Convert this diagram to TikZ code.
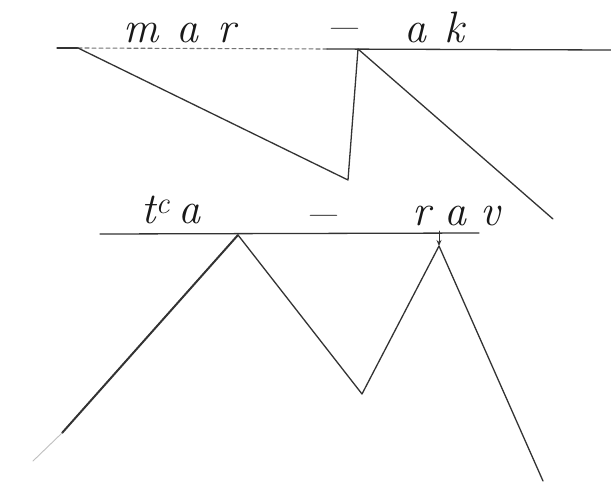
\documentclass[tikz,border=0pt]{standalone}
\usepackage{fontspec}
\usetikzlibrary{arrows.meta}
\newcommand{\lgap}{\kern0.42em}
\tikzset{
    sketch/.style = {x=1pt, y=-1pt, >={Stealth[length=6pt, width=5pt]}},
    stroke/.style = {draw=black!80, line width=1.3pt, line cap=round,
                     line join=round},
    heavy/.style  = {stroke, line width=2pt},
    faint/.style  = {draw=black!55, line width=1.1pt, line cap=round,
                     dash pattern=on 4pt off 3pt},
    fade/.style   = {draw=black!25, line width=0.9pt, line cap=round},
    word/.style   = {font=\fontsize{44}{46}\selectfont\itshape,
                     text=black!90, inner sep=0pt, anchor=base west},
    hyph/.style   = {word, anchor=center}
}

\begin{document}
\begin{tikzpicture}[sketch]
\fill[white] (0,0) rectangle (611,482);
\useasboundingbox (0,0) rectangle (611,482);

% ================= Upper line: mar - ak =================
\coordinate (topA) at (57,48);
\coordinate (topB) at (78,48);
\coordinate (topC) at (327,49);
\coordinate (topD) at (611,50);
\coordinate (mvert) at (348,180);
\coordinate (akapex) at (358,49);
\coordinate (akend) at (553,219);
\draw[stroke] (topA) -- (topB);
\draw[faint] (topB) -- (topC);
\draw[stroke] (topC) -- (topD);
\draw[stroke] (topB) -- (mvert) -- (akapex) -- (akend);

\node[word] (mar) at (123,42) {m\lgap a\lgap r};
\node[hyph] (hyphtop) at (341,34) {\scalebox{1.4}[1]{--}};
\node[word] (ak) at (404,42) {a\lgap k};

% ================= Lower line: t^c a - rav =================
\coordinate (botL) at (100,234);
\coordinate (botR) at (479,233);
\coordinate (taapex) at (238,235);
\coordinate (taend) at (62,433);
\coordinate (tafade) at (33,461);
\coordinate (mvbot) at (362,394);
\coordinate (ravtick) at (439,231);
\coordinate (ravapex) at (439,246);
\coordinate (ravend) at (543,481);
\draw[stroke] (botL) -- (botR);
\draw[heavy] (taapex) -- (taend);
\draw[fade] (taend) -- (tafade);
\draw[stroke] (taapex) -- (mvbot) -- (ravapex) -- (ravend);
\draw[->, stroke, line width=1pt] (ravtick) -- (ravapex);

\node[word] (ta) at (141,223) {t\textsuperscript{c}\kern0.2em a};
\node[hyph] (hyphbot) at (320,221) {\scalebox{1.4}[1]{--}};
\node[word] (rav) at (412,225) {r\kern0.32em a\kern0.32em v};

\end{tikzpicture}
\end{document}
